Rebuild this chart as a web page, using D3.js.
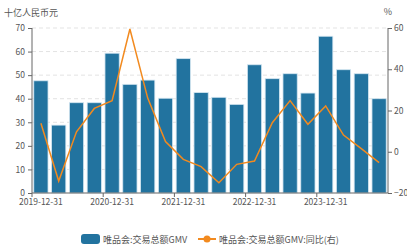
<!DOCTYPE html>
<html>
<head>
<meta charset="utf-8">
<script src="https://cdn.jsdelivr.net/npm/d3@7"></script>
<style>
  body { margin: 0; background: #fff; }
  svg text { font-family: "Noto Sans CJK SC", "Noto Sans", sans-serif; fill: #555; }
</style>
</head>
<body>
<svg id="chart" width="407" height="249"></svg>
<script>
// Quarterly data, 2019Q4 .. 2024Q3
const quarters = ["2019-12-31","2020-03-31","2020-06-30","2020-09-30","2020-12-31","2021-03-31","2021-06-30","2021-09-30",
	"2021-12-31","2022-03-31","2022-06-30","2022-09-30","2022-12-31","2023-03-31","2023-06-30","2023-09-30",
	"2023-12-31","2024-03-31","2024-06-30","2024-09-30"];
const gmv = [47.6, 28.8, 38.3, 38.3, 59.3, 46.1, 47.9, 40.2, 57.0, 42.6, 40.6, 37.6, 54.4, 48.5, 50.6, 42.4, 66.5, 52.3, 50.6, 40.0];
const gmvYoy = [13.8, -14.2, 9.7, 21.0, 24.8, 59.5, 26.0, 4.9, -3.7, -7.2, -15.0, -6.1, -4.5, 14.1, 24.8, 13.3, 22.2, 8.1, 1.5, -5.3];
const leftTicks = [0, 10, 20, 30, 40, 50, 60, 70];
const rightTicks = [-20, 0, 20, 40, 60];
const xLabels = ["2019-12-31","2020-12-31","2021-12-31","2022-12-31","2023-12-31"];

const margin = {top: 28, right: 19, bottom: 56, left: 32};
const svg = d3.select("#chart"),
	width = +svg.attr("width"),
	height = +svg.attr("height"),
	innerW = width - margin.left - margin.right,
	innerH = height - margin.top - margin.bottom,
	axisColor = "#666";

const x = d3.scaleBand().domain(quarters).range([0, innerW]).paddingInner(0.2).paddingOuter(0.1);
const yL = d3.scaleLinear().domain([0, 70]).range([innerH, 0]);
const yR = d3.scaleLinear().domain([-20, 60]).range([innerH, 0]);

const g = svg.append("g").attr("transform", `translate(${margin.left},${margin.top})`);

// grid lines
g.append("g").selectAll("line")
	.data(leftTicks.filter(d => d > 0))
	.enter().append("line")
	.attr("x1", 0).attr("x2", innerW)
	.attr("y1", d => yL(d)).attr("y2", d => yL(d))
	.attr("stroke", "#e3e3e3")
	.attr("stroke-dasharray", "4,3");

// bars
g.append("g").selectAll("rect")
	.data(quarters)
	.enter().append("rect")
	.attr("x", (d) => x(d))
	.attr("width", x.bandwidth())
	.attr("y", (d, i) => yL(gmv[i]))
	.attr("height", (d, i) => innerH - yL(gmv[i]))
	.attr("fill", "#22739f")
	.attr("stroke", "#d4e6f1")
	.attr("stroke-width", 0.8);

// yoy line
const line = d3.line()
	.x((d, i) => x(quarters[i]) + x.bandwidth() / 2)
	.y(d => yR(d));
g.append("path")
	.datum(gmvYoy)
	.attr("d", line)
	.attr("fill", "none")
	.attr("stroke", "#f28a1f")
	.attr("stroke-width", 1.5);

// left axis
const leftAxis = g.append("g")
	.call(d3.axisLeft(yL).tickValues(leftTicks).tickSize(4).tickPadding(3));
// right axis
const rightAxis = g.append("g")
	.attr("transform", `translate(${innerW},0)`)
	.call(d3.axisRight(yR).tickValues(rightTicks).tickSize(4).tickPadding(2));
// bottom axis: ticks at band boundaries, labels at band centres
const step = x.step();
const bottomAxis = g.append("g")
	.attr("transform", `translate(0,${innerH})`)
	.call(d3.axisBottom(x).tickValues(xLabels).tickSize(0).tickPadding(6));
bottomAxis.selectAll(".tick").append("line")
	.attr("x1", -step / 2).attr("x2", -step / 2)
	.attr("y1", 0).attr("y2", 4)
	.attr("stroke", axisColor);

[leftAxis, rightAxis, bottomAxis].forEach(a => {
	a.select(".domain").attr("stroke", axisColor);
	a.selectAll(".tick line").attr("stroke", axisColor);
	a.selectAll("text").style("font-size", "8.5px").attr("fill", "#555");
});
bottomAxis.select(".domain").attr("d", `M0,0H${innerW}`);
leftAxis.select(".domain").attr("d", `M0,0V${innerH}`);
rightAxis.select(".domain").attr("d", `M0,0V${innerH}`);

// unit labels
svg.append("text").text("十亿人民币元")
	.attr("x", 4).attr("y", 16)
	.style("font-size", "9px");
svg.append("text").text("%")
	.attr("x", 388).attr("y", 15)
	.style("text-anchor", "middle")
	.style("font-size", "9px");

// legend
const legend = svg.append("g").attr("transform", "translate(0,239)");
legend.append("rect")
	.attr("x", 81).attr("y", -5)
	.attr("width", 19).attr("height", 10).attr("rx", 3)
	.attr("fill", "#22739f");
legend.append("text").text("唯品会:交易总额GMV")
	.attr("x", 103).attr("y", 3.5)
	.style("font-size", "9px");
legend.append("line")
	.attr("x1", 198).attr("x2", 216)
	.attr("y1", 0).attr("y2", 0)
	.attr("stroke", "#f28a1f").attr("stroke-width", 2);
legend.append("circle")
	.attr("cx", 207).attr("cy", 0).attr("r", 3.5)
	.attr("fill", "#f28a1f");
legend.append("text").text("唯品会:交易总额GMV:同比(右)")
	.attr("x", 219).attr("y", 3.5)
	.style("font-size", "9px");
</script>
</body>
</html>
